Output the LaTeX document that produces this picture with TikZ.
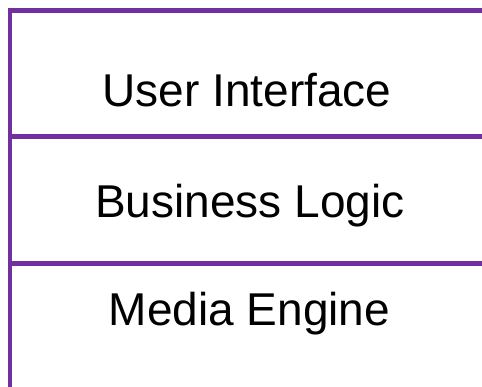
\documentclass[tikz,border=0pt]{standalone}
\usepackage{fontspec}
\setmainfont{Liberation Sans}
\definecolor{framepurple}{HTML}{7030A0}
\tikzset{
  frameline/.style={draw=framepurple, line width=4.5pt},
  layerlabel/.style={anchor=base, inner sep=0pt, font=\fontsize{46}{50}\selectfont, text=black}
}
\begin{document}
\begin{tikzpicture}[x=1pt, y=-1pt]
\useasboundingbox (0,0) rectangle (482,387);
% frame
\draw[frameline] (10,387) -- (10,10.5) -- (482,10.5);
\draw[frameline] (7.75,136.5) -- (482,136.5);
\draw[frameline] (7.75,263.5) -- (482,263.5);
% labels
\node[layerlabel] (ui) at (247,107) {User Interface};
\node[layerlabel] (bl) at (250,218) {Business Logic};
\node[layerlabel] (me) at (249.5,326) {Media Engine};
\end{tikzpicture}
\end{document}
